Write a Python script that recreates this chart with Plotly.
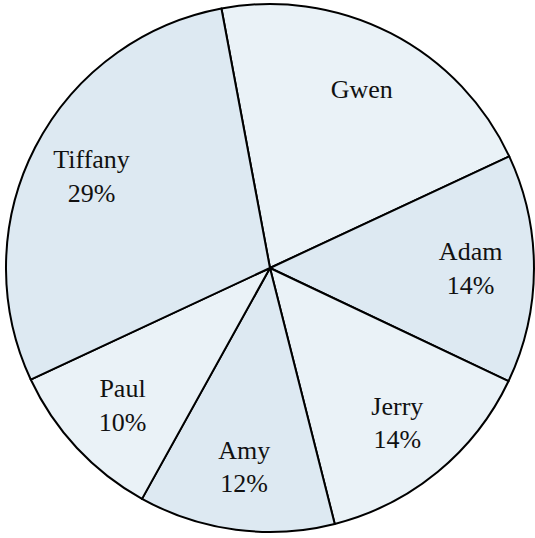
import plotly.graph_objects as go

names = ["Gwen", "Adam", "Jerry", "Amy", "Paul", "Tiffany"]
values = [21, 14, 14, 12, 10, 29]
show_percent = [False, True, True, True, True, True]

light = "#EAF2F7"
dark = "#DDE9F2"
colors = [light, dark, light, dark, light, dark]

templates = ["%{label}" + ("<br>%{percent:.0%}" if s else "") for s in show_percent]

dom = dict(x=[0.0112, 0.9981], y=[0.0112, 0.9926])

fig = go.Figure()
# slices
fig.add_trace(go.Pie(
    labels=names,
    values=values,
    sort=False,
    direction="clockwise",
    rotation=-10.6,
    marker=dict(colors=colors, line=dict(color="black", width=2)),
    textinfo="none",
    hoverinfo="label+percent",
    domain=dom,
))
# labels (transparent ring so texts sit near 3/4 of the radius)
fig.add_trace(go.Pie(
    labels=names,
    values=values,
    sort=False,
    direction="clockwise",
    rotation=-10.6,
    hole=0.52,
    marker=dict(colors=["rgba(0,0,0,0)"] * len(names), line=dict(width=0)),
    texttemplate=templates,
    textposition="inside",
    insidetextorientation="horizontal",
    textfont=dict(family="Liberation Serif", size=26, color="#111111"),
    hoverinfo="skip",
    domain=dom,
))

fig.update_layout(
    width=535, height=538,
    margin=dict(l=0, r=0, t=0, b=0),
    showlegend=False,
    paper_bgcolor="white",
    plot_bgcolor="white",
)

fig.write_html("out.html", config={"displayModeBar": False},
               post_script="document.body.style.margin='0';")
